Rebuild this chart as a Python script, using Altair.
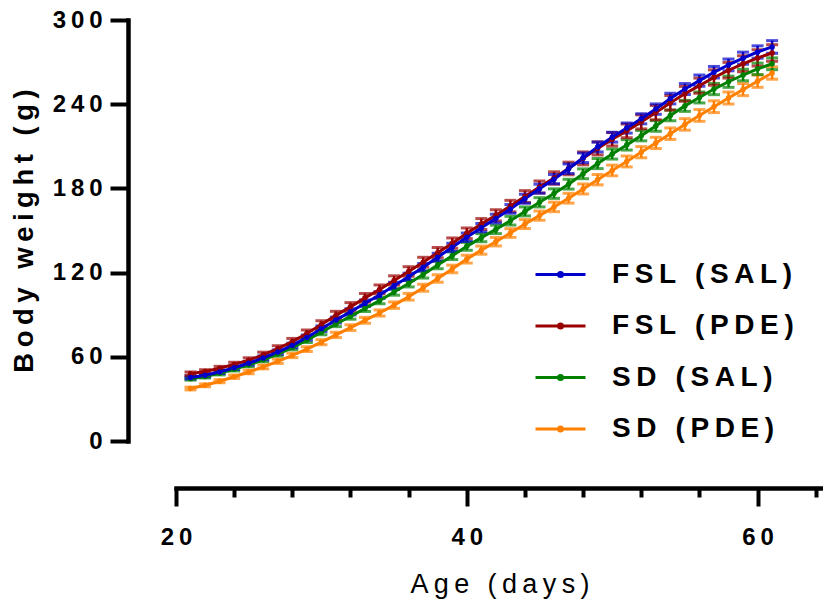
import altair as alt
import pandas as pd

# ---------------- data ----------------
days = list(range(21, 62))

series = ["FSL (SAL)", "FSL (PDE)", "SD (SAL)", "SD (PDE)"]
colors = ["#0000CC", "#990000", "#008000", "#FF8000"]

fsl_sal = [45.2, 46.8, 49.2, 52.2, 55.4, 59.2, 63.4, 68.1, 73.8, 80.0,
           86.2, 92.0, 98.2, 104.0, 110.6, 117.0, 123.8, 131.0, 138.0, 145.2,
           152.0, 158.5, 165.4, 172.6, 179.8, 186.6, 194.0, 201.8, 209.5, 216.5,
           223.0, 229.6, 236.5, 244.0, 250.8, 256.8, 262.8, 268.0, 272.8, 277.2,
           280.8]
fsl_sal_sem = [1.0, 1.0, 1.1, 1.2, 1.3, 1.4, 1.5, 1.6, 1.8, 2.0,
               2.1, 2.2, 2.3, 2.4, 2.5, 2.6, 2.7, 2.8, 2.9, 3.0,
               3.0, 3.1, 3.1, 3.2, 3.2, 3.3, 3.4, 3.4, 3.5, 3.5,
               3.6, 3.6, 3.7, 3.8, 3.9, 4.0, 4.1, 4.2, 4.3, 4.4,
               4.5]

fsl_pde = [48.0, 49.5, 51.8, 54.6, 57.6, 61.4, 65.8, 70.8, 76.6, 83.0,
           89.5, 95.6, 102.0, 108.0, 114.4, 120.8, 127.4, 134.2, 141.0, 148.0,
           154.6, 160.8, 167.4, 174.2, 181.0, 187.4, 194.2, 201.4, 208.5, 215.0,
           221.0, 227.4, 234.0, 241.0, 247.4, 253.2, 259.0, 264.2, 268.8, 273.0,
           276.5]
fsl_pde_sem = [1.2, 1.3, 1.4, 1.5, 1.7, 1.9, 2.1, 2.3, 2.5, 2.7,
               2.9, 3.0, 3.1, 3.2, 3.3, 3.4, 3.5, 3.6, 3.7, 3.8,
               3.9, 4.0, 4.1, 4.2, 4.3, 4.4, 4.5, 4.6, 4.7, 4.8,
               4.9, 5.0, 5.1, 5.2, 5.3, 5.4, 5.5, 5.6, 5.7, 5.8,
               5.9]

sd_sal = [44.4, 45.9, 48.2, 51.1, 54.2, 57.9, 62.0, 66.6, 71.9, 77.5,
          83.4, 88.8, 94.4, 100.0, 106.2, 112.2, 118.6, 125.4, 132.0, 138.7,
          144.9, 150.8, 157.0, 163.6, 170.1, 176.3, 183.0, 190.4, 197.7, 204.5,
          211.0, 217.6, 224.5, 232.0, 238.8, 244.8, 250.8, 256.0, 260.8, 265.2,
          268.8]
sd_sal_sem = [1.0, 1.0, 1.1, 1.2, 1.3, 1.4, 1.5, 1.6, 1.7, 1.8,
              1.9, 2.0, 2.1, 2.2, 2.3, 2.4, 2.5, 2.6, 2.7, 2.8,
              2.9, 3.0, 3.1, 3.2, 3.3, 3.4, 3.5, 3.5, 3.6, 3.6,
              3.7, 3.7, 3.8, 3.8, 3.9, 3.9, 4.0, 4.0, 4.1, 4.1,
              4.2]

sd_pde = [37.4, 39.7, 42.6, 45.8, 49.2, 52.8, 56.8, 61.0, 65.4, 70.4,
          75.6, 80.8, 86.0, 91.2, 96.8, 102.8, 109.2, 115.8, 122.6, 129.6,
          136.0, 142.0, 148.2, 154.6, 160.6, 166.8, 173.0, 179.6, 186.2, 192.8,
          199.2, 205.8, 212.4, 219.0, 225.6, 232.0, 238.2, 244.4, 250.4, 256.4,
          262.2]
sd_pde_sem = [1.0, 1.0, 1.1, 1.2, 1.3, 1.4, 1.5, 1.6, 1.7, 1.8,
              1.9, 2.0, 2.1, 2.2, 2.3, 2.4, 2.5, 2.6, 2.7, 2.8,
              2.9, 3.0, 3.1, 3.2, 3.3, 3.4, 3.5, 3.6, 3.7, 3.8,
              3.9, 4.0, 4.0, 4.1, 4.1, 4.2, 4.2, 4.3, 4.3, 4.4,
              4.4]

x_ticks = list(range(20, 65, 2))
y_ticks = [0, 60, 120, 180, 240, 300]

# ---------------- table ----------------
means = {"FSL (SAL)": fsl_sal, "FSL (PDE)": fsl_pde, "SD (SAL)": sd_sal, "SD (PDE)": sd_pde}
sems = {"FSL (SAL)": fsl_sal_sem, "FSL (PDE)": fsl_pde_sem, "SD (SAL)": sd_sal_sem, "SD (PDE)": sd_pde_sem}
draw_order = ["SD (PDE)", "SD (SAL)", "FSL (PDE)", "FSL (SAL)"]
rows = []
for s in draw_order:
    for d, m, e in zip(days, means[s], sems[s]):
        rows.append({"day": d, "weight": m, "lo": m - e, "hi": m + e, "group": s})
df = pd.DataFrame(rows)

SP = "\u2009"
def spaced(text):
    return SP.join(text)

FONT = "Liberation Sans"
spaced_expr = "join(split(datum.label, ''), '" + SP + "')"

x_scale = alt.Scale(domain=[20, 64.5], nice=False, zero=False)
y_scale = alt.Scale(domain=[0, 300], nice=False, zero=True)
color_scale = alt.Scale(domain=series, range=colors)

x_axis = alt.Axis(
    values=x_ticks,
    tickSize={"condition": {"test": "datum.value % 20 === 0", "value": 18}, "value": 9},
    tickWidth=4, tickColor="black", domainWidth=4.5, domainColor="black",
    domainCap="square",
    offset=47, grid=False, labelFlush=False,
    labelExpr="datum.value % 20 === 0 ? " + spaced_expr + " : ''",
    labelFont=FONT, labelFontSize=24, labelFontWeight="bold", labelColor="black",
    labelPadding=19,
    title=spaced("Age (days)"), titleFont=FONT, titleFontSize=27,
    titleFontWeight="normal", titleColor="black", titlePadding=22,
)
y_axis = alt.Axis(
    values=y_ticks, tickSize=18, tickWidth=4, tickColor="black",
    domainWidth=4.5, domainColor="black", domainCap="square",
    offset=48, grid=False, labelFlush=False,
    labelExpr=spaced_expr,
    labelFont=FONT, labelFontSize=24, labelFontWeight="bold", labelColor="black",
    labelPadding=8,
    title=spaced("Body weight (g)"), titleFont=FONT, titleFontSize=27.5,
    titleFontWeight="bold", titleColor="black", titlePadding=14,
)

legend_symbol = "M-1,0L1,0M-0.08,0A0.08,0.08 0 1,0 0.08,0A0.08,0.08 0 1,0 -0.08,0"
legend = alt.Legend(
    orient="none", legendX=358, legendY=228, title=None,
    symbolType=legend_symbol, symbolSize=2500, symbolStrokeWidth=3,
    symbolOpacity=1,
    labelFont=FONT, labelFontSize=28, labelFontWeight="bold", labelColor="black",
    labelExpr=spaced_expr, labelLimit=500, labelOffset=25,
    rowPadding=10.5, padding=0,
)
color_enc = alt.Color("group:N", scale=color_scale, legend=legend, sort=series)

base = alt.Chart(df)

rules = base.mark_rule(strokeWidth=2.5).encode(
    x=alt.X("day:Q", scale=x_scale, axis=x_axis),
    y=alt.Y("lo:Q", scale=y_scale, axis=y_axis),
    y2="hi:Q",
    color=color_enc,
)
caps_hi = base.mark_tick(orient="horizontal", size=12, thickness=3).encode(
    x="day:Q", y="hi:Q", color=color_enc,
)
caps_lo = base.mark_tick(orient="horizontal", size=12, thickness=3).encode(
    x="day:Q", y="lo:Q", color=color_enc,
)
lines = base.mark_line(strokeWidth=3).encode(
    x="day:Q", y="weight:Q", color=color_enc, detail="group:N",
)
points = base.mark_circle(size=30, opacity=1).encode(
    x="day:Q", y="weight:Q", color=color_enc,
)

chart = alt.layer(rules, caps_hi, caps_lo, lines, points).properties(
    width=647, height=421,
    autosize=alt.AutoSizeParams(type="none"),
    padding={"left": 168, "top": 12, "right": 0, "bottom": 159},
).configure_view(strokeWidth=0, stroke="transparent")

chart.save("out.html", embed_options={"renderer": "svg", "actions": False})
